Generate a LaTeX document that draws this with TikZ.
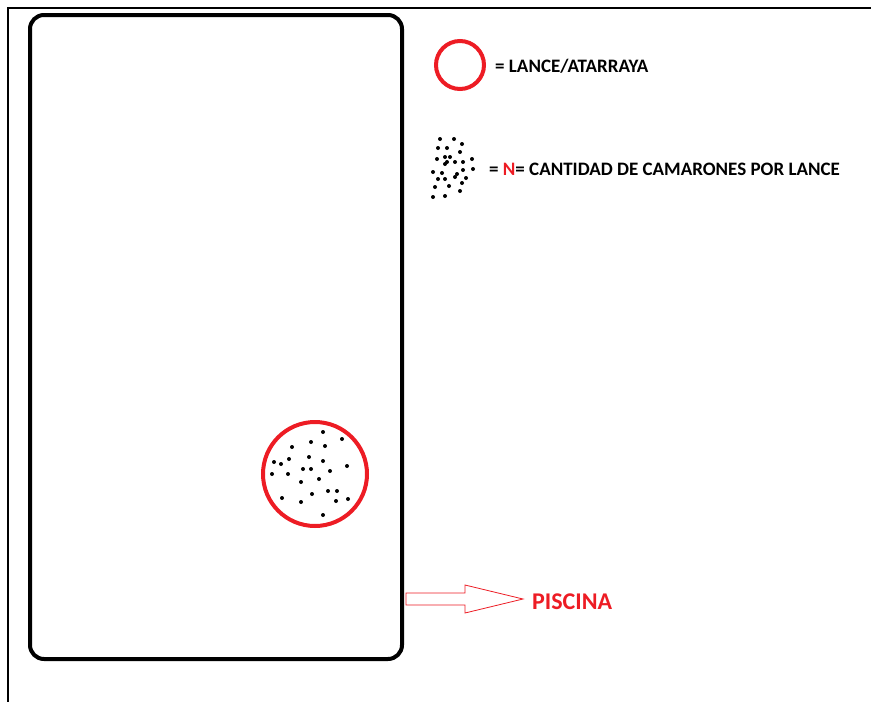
\documentclass[tikz,border=0pt]{standalone}
\usepackage{fontspec}
\setmainfont{Carlito}
\definecolor{pred}{RGB}{237,28,36}
\begin{document}
\begin{tikzpicture}[x=1pt,y=-1pt,
  lbl/.style={font=\bfseries\fontsize{19}{22}\selectfont, anchor=base west, inner sep=0pt},
  dot/.style={fill=black, draw=none},
  netring/.style={draw=pred, line width=4pt, fill=none}]
\useasboundingbox (0,0) rectangle (871,702);
% frame (top and left)
\draw[line width=1.5pt] (8,702) -- (8,8) -- (871,8);
% pool
\draw[line width=4pt, rounded corners=14pt] (30,15) rectangle (402,659);
% legend circle
\node[netring, circle, minimum size=48pt, inner sep=0pt] (lc) at (460,65) {};
\node[lbl] (lt) at (495,72) {= LANCE/ATARRAYA};
% legend dots
\foreach \p in {(440,139),(454,139),(438,148),(447,148),(462,144),(460,152),(445,157),(450,157),(437,159),(455,162),(463,162),(472,159),(445,164),(447,162),(433,172),(442,173),(457,174),(455,177),(463,170),(473,169),(438,179),(445,179),(449,186),(466,178),(462,183),(435,187),(433,197),(445,196),(460,191)}
  \fill[dot] \p circle (2pt);
\node[lbl] (nt) at (489,175) {= \textcolor{pred}{N}= CANTIDAD DE CAMARONES POR LANCE};
% cast net circle in pool
\node[netring, circle, minimum size=104pt, inner sep=0pt] (net) at (315,474) {};
\foreach \p in {(323,432),(342,439),(311,442),(292,447),(325,446),(309,457),(289,459),(323,461),(274,462),(281,464),(347,466),(303,469),(311,469),(330,471),(272,474),(288,474),(319,479),(301,482),(328,491),(337,491),(312,494),(282,498),(348,499),(336,501),(301,502),(323,515)}
  \fill[dot] \p circle (2pt);
% arrow
\coordinate (as) at (406,599);
\node[lbl, text=pred, font=\bfseries\fontsize{24}{28}\selectfont, anchor=west] (pis) at (532,602) {PISCINA};
\draw[pred, line width=0.8pt, fill=white] (406,593) -- (465,593) -- (465,585) -- (523,599) -- (465,613) -- (465,605) -- (406,605) -- cycle;
\end{tikzpicture}
\end{document}
